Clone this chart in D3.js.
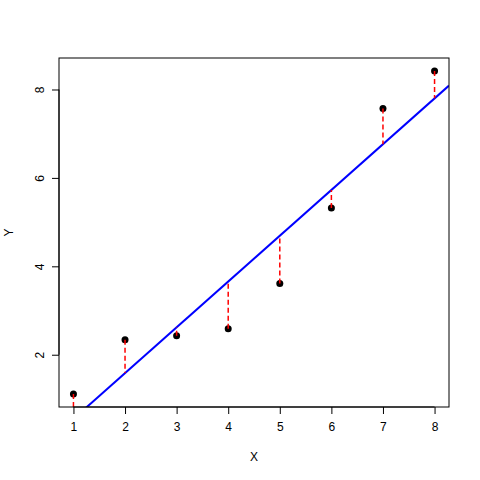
<!DOCTYPE html>
<html>
<head>
<meta charset="utf-8">
<script src="https://cdn.jsdelivr.net/npm/d3@7"></script>
<style>
  body { margin: 0; background: #fff; }
  text { font-family: "Liberation Sans", Arial, sans-serif; }
</style>
</head>
<body>
<svg id="chart" width="480" height="480"></svg>
<script>
const xs = [1, 2, 3, 4, 5, 6, 7, 8]
const ys = [1.11, 2.34, 2.43, 2.59, 3.61, 5.32, 7.57, 8.42]
const xTicks = [1, 2, 3, 4, 5, 6, 7, 8]
const yTicks = [2, 4, 6, 8]

const plotLeft = 59, plotRight = 449, plotTop = 58, plotBottom = 407;
const svg = d3.select('#chart');

// R style axis extension of 4%
const xPad = (d3.max(xs) - d3.min(xs)) * 0.04;
const yPad = (d3.max(ys) - d3.min(ys)) * 0.04;
const x = d3.scaleLinear().domain([d3.min(xs) - xPad, d3.max(xs) + xPad]).range([plotLeft, plotRight]);
const y = d3.scaleLinear().domain([d3.min(ys) - yPad, d3.max(ys) + yPad]).range([plotBottom, plotTop]);

// least squares fit
const mx = d3.mean(xs), my = d3.mean(ys);
const slope = d3.sum(xs, (v, i) => (v - mx) * (ys[i] - my)) / d3.sum(xs, v => (v - mx) * (v - mx));
const intercept = my - slope * mx;
const fit = v => intercept + slope * v;

svg.append('clipPath').attr('id', 'clip')
    .append('rect').attr('x', plotLeft).attr('y', plotTop)
    .attr('width', plotRight - plotLeft).attr('height', plotBottom - plotTop);

const plot = svg.append('g').attr('clip-path', 'url(#clip)');

// points
plot.selectAll('circle').data(xs).join('circle')
    .attr('cx', d => x(d))
    .attr('cy', (d, i) => y(ys[i]))
    .attr('r', 3.5)
    .attr('fill', '#000');

// regression line
const x0 = x.domain()[0], x1 = x.domain()[1];
plot.append('line')
    .attr('x1', x(x0)).attr('y1', y(fit(x0)))
    .attr('x2', x(x1)).attr('y2', y(fit(x1)))
    .attr('stroke', '#0000ff')
    .attr('stroke-width', 2);

// residuals
plot.selectAll('line.res').data(xs).join('line')
    .attr('class', 'res')
    .attr('x1', d => x(d)).attr('x2', d => x(d))
    .attr('y1', (d, i) => y(ys[i]))
    .attr('y2', d => y(fit(d)))
    .attr('stroke', '#ff0000')
    .attr('stroke-width', 1.5)
    .attr('stroke-dasharray', '5,3');

// box
svg.append('rect')
    .attr('x', plotLeft).attr('y', plotTop)
    .attr('width', plotRight - plotLeft).attr('height', plotBottom - plotTop)
    .attr('fill', 'none').attr('stroke', '#000');

// axes
const xAxis = svg.append('g')
    .attr('transform', `translate(0,${plotBottom})`)
    .call(d3.axisBottom(x).tickValues(xTicks).tickSize(7).tickPadding(8).tickFormat(d3.format('d')));
xAxis.select('.domain').attr('d', `M${x(1)},0H${x(8)}`);
xAxis.selectAll('text').attr('font-size', 12).attr('font-family', '"Liberation Sans", Arial, sans-serif');

const yAxis = svg.append('g')
    .attr('transform', `translate(${plotLeft},0)`)
    .call(d3.axisLeft(y).tickValues(yTicks).tickSize(7).tickPadding(8).tickFormat(d3.format('d')));
yAxis.select('.domain').attr('d', `M0,${y(2)}V${y(8)}`);
yAxis.selectAll('.tick text')
    .attr('font-size', 12)
    .attr('font-family', '"Liberation Sans", Arial, sans-serif')
    .attr('text-anchor', 'middle')
    .attr('dy', null)
    .attr('transform', 'translate(-19,0) rotate(-90)')
    .attr('x', 0)
    .attr('y', 4);

// titles
svg.append('text')
    .attr('x', (plotLeft + plotRight) / 2).attr('y', 461)
    .attr('text-anchor', 'middle')
    .attr('font-size', 12)
    .text('X');

svg.append('text')
    .attr('transform', `translate(13,${(plotTop + plotBottom) / 2}) rotate(-90)`)
    .attr('text-anchor', 'middle')
    .attr('font-size', 12)
    .text('Y');
</script>
</body>
</html>
